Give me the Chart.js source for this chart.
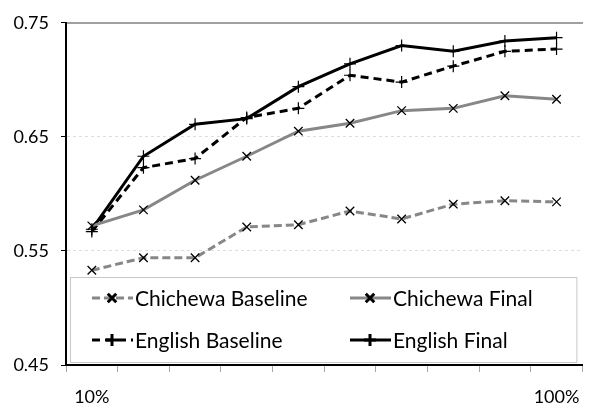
<!DOCTYPE html>
<html>
<head>
<meta charset="utf-8">
<script src="https://cdn.jsdelivr.net/npm/chart.js@4/dist/chart.umd.min.js"></script>
<style>
  html, body { margin: 0; padding: 0; background: #fff; }
  #wrap { width: 594px; height: 407px; }
</style>
</head>
<body>
<div id="wrap"><canvas id="grafica" width="594" height="407"></canvas></div>
<script>
const categorias = ['10%', '20%', '30%', '40%', '50%', '60%', '70%', '80%', '90%', '100%']
const yTicks = [0.45, 0.55, 0.65, 0.75]

const chichewaBaseline = [0.533, 0.544, 0.544, 0.571, 0.573, 0.585, 0.578, 0.591, 0.594, 0.593]
const chichewaFinal = [0.572, 0.586, 0.612, 0.633, 0.655, 0.662, 0.673, 0.675, 0.686, 0.683]
const englishBaseline = [0.567, 0.623, 0.631, 0.667, 0.675, 0.704, 0.698, 0.712, 0.725, 0.727]
const englishFinal = [0.569, 0.633, 0.661, 0.666, 0.694, 0.714, 0.730, 0.725, 0.734, 0.737]

const fuente = 'Lato, "Open Sans", sans-serif'
const gris = '#878787'

// leyenda dibujada dentro del area del grafico, abajo
const leyendaInterna = {
    id: 'leyendaInterna',
    afterDraw(chart) {
        const {ctx, chartArea} = chart
        const x = chartArea.left + 4
        const w = chartArea.right - chartArea.left - 10
        const h = 85
        const y = chartArea.bottom - 3 - h
        ctx.save()
        ctx.fillStyle = '#fff'
        ctx.fillRect(x, y, w, h)
        ctx.strokeStyle = '#c8c8c8'
        ctx.lineWidth = 1
        ctx.strokeRect(x + 0.5, y + 0.5, w, h)

        const columnas = [x + 22, x + 280]
        const filas = [y + 21, y + 63]
        chart.data.datasets.forEach((ds, i) => {
            const cx = columnas[i % 2]
            const cy = filas[Math.floor(i / 2)]
            ctx.strokeStyle = ds.borderColor
            ctx.lineWidth = ds.borderWidth
            ctx.setLineDash(ds.borderDash || [])
            ctx.beginPath()
            ctx.moveTo(cx, cy)
            ctx.lineTo(cx + 41, cy)
            ctx.stroke()
            ctx.setLineDash([])
            ctx.strokeStyle = '#000'
            ctx.fillStyle = '#000'
            Chart.helpers.drawPoint(ctx, {
                pointStyle: ds.pointStyle,
                radius: ds.pointRadius,
                borderWidth: ds.pointBorderWidth,
                rotation: 0
            }, cx + 20, cy)
            ctx.fillStyle = '#000'
            ctx.font = '21px ' + fuente
            ctx.textBaseline = 'middle'
            ctx.fillText(ds.label, cx + 43, cy + 1)
        })
        ctx.restore()
    }
}

const grafica = document.getElementById('grafica').getContext('2d')

new Chart(grafica, {
    type: 'line',
    data: {
        labels: categorias,
        datasets: [{
            label: 'Chichewa Baseline',
            data: chichewaBaseline,
            borderColor: gris,
            borderWidth: 3,
            borderDash: [8, 4],
            pointStyle: 'crossRot',
            pointRadius: 6,
            pointBorderWidth: 1.3,
            pointBorderColor: '#000'
        }, {
            label: 'Chichewa Final',
            data: chichewaFinal,
            borderColor: gris,
            borderWidth: 3,
            pointStyle: 'crossRot',
            pointRadius: 6,
            pointBorderWidth: 1.3,
            pointBorderColor: '#000'
        }, {
            label: 'English Baseline',
            data: englishBaseline,
            borderColor: '#000',
            borderWidth: 3,
            borderDash: [8, 5],
            pointStyle: 'cross',
            pointRadius: 6,
            pointBorderWidth: 1.2,
            pointBorderColor: '#000'
        }, {
            label: 'English Final',
            data: englishFinal,
            borderColor: '#000',
            borderWidth: 3,
            pointStyle: 'cross',
            pointRadius: 6,
            pointBorderWidth: 1.2,
            pointBorderColor: '#000'
        }]
    },
    options: {
        responsive: false,
        animation: false,
        devicePixelRatio: 1,
        layout: { padding: { top: 20, right: 0, left: 0, bottom: 0 } },
        plugins: {
            legend: { display: false },
            tooltip: { enabled: false }
        },
        scales: {
            x: {
                type: 'category',
                offset: true,
                grid: {
                    offset: true,
                    drawOnChartArea: false,
                    drawTicks: true,
                    tickLength: 7,
                    tickColor: '#a6a6a6'
                },
                border: { color: '#000', width: 2 },
                ticks: {
                    autoSkip: false,
                    maxRotation: 0,
                    padding: 14,
                    color: '#000',
                    font: { family: fuente, size: 18 },
                    callback: (v, i) => (i === 0 || i === categorias.length - 1) ? categorias[i] : ''
                },
                afterFit: (s) => { s.height = 42 }
            },
            xArriba: {
                type: 'category',
                position: 'top',
                grid: { display: false },
                ticks: { display: false },
                border: { color: '#a0a0a0', width: 2 },
                afterFit: (s) => { s.height = 0 }
            },
            y: {
                min: 0.45,
                max: 0.75,
                afterBuildTicks: (s) => { s.ticks = yTicks.map(v => ({value: v})) },
                grid: {
                    color: (c) => (c.tick && (c.tick.value === 0.55 || c.tick.value === 0.65)) ? '#dedede' : 'rgba(0,0,0,0)',
                    lineWidth: 1,
                    tickLength: 5,
                    tickColor: '#000',
                    tickBorderDash: []
                },
                border: { color: '#000', width: 2, dash: [3, 3] },
                ticks: {
                    padding: 12,
                    color: '#000',
                    font: { family: fuente, size: 18 },
                    callback: (v) => v.toFixed(2)
                },
                afterFit: (s) => { s.width = 66 }
            }
        }
    },
    plugins: [leyendaInterna]
});
</script>
</body>
</html>
